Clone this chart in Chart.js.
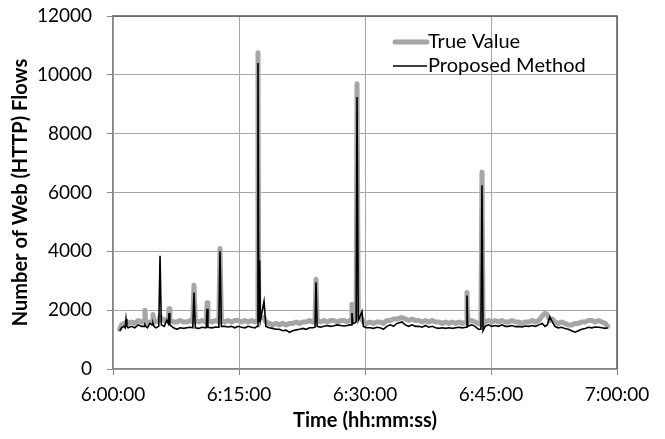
<!DOCTYPE html>
<html>
<head>
<meta charset="utf-8">
<script src="https://cdn.jsdelivr.net/npm/chart.js@4.4.1/dist/chart.umd.min.js"></script>
<style>
  html, body { margin: 0; padding: 0; background: #fff; }
  #wrap { width: 665px; height: 439px; }
</style>
</head>
<body>
<div id="wrap"><canvas id="flows"></canvas></div>
<script>
// minutes after 6:00:00
const minutes = [
  0.8, 1.0, 1.3, 1.45, 1.55, 1.65, 1.8, 2.2, 2.6, 3.0, 3.4, 3.7, 3.8, 3.9, 4.1, 4.4,
  4.65, 4.76, 4.87, 5.1, 5.45, 5.6, 5.75, 6.1, 6.4, 6.57, 6.67, 6.77, 7.2, 7.6, 8.0, 8.4,
  8.8, 9.2, 9.5, 9.64, 9.8, 10.2, 10.6, 11.0, 11.1, 11.2, 11.3, 11.8, 12.2, 12.6, 12.74, 12.9,
  13.3, 13.7, 14.1, 14.5, 14.9, 15.3, 15.7, 16.1, 16.5, 16.9, 17.15, 17.26, 17.36, 17.45, 17.55, 17.98,
  18.2, 18.6, 19.0, 19.4, 19.8, 20.2, 20.6, 21.0, 21.4, 21.8, 22.2, 22.6, 23.0, 23.4, 23.8, 24.05,
  24.17, 24.3, 24.7, 25.1, 25.5, 25.9, 26.3, 26.7, 27.1, 27.5, 27.9, 28.2, 28.35, 28.45, 28.55, 28.7,
  28.95, 29.05, 29.2, 29.64, 29.8, 30.2, 30.6, 31.0, 31.4, 31.8, 32.2, 32.6, 33.0, 33.4, 33.8, 34.4,
  34.8, 35.2, 35.6, 36.0, 36.4, 36.8, 37.2, 37.6, 38.0, 38.4, 38.8, 39.2, 39.6, 40.0, 40.4, 40.8,
  41.2, 41.6, 42.0, 42.05, 42.14, 42.23, 42.7, 43.1, 43.5, 43.8, 43.93, 44.05, 44.3, 44.7, 45.1, 45.5,
  45.9, 46.3, 46.7, 47.1, 47.5, 47.9, 48.3, 48.7, 49.1, 49.5, 49.9, 50.3, 50.7, 51.1, 51.43, 51.7,
  52.0, 52.3, 52.6, 53.0, 53.4, 53.8, 54.2, 54.6, 55.0, 55.4, 55.8, 56.2, 56.6, 57.0, 57.4, 57.8,
  58.2, 58.6, 58.9
];
const trueValue = [
  1350, 1500, 1550, 1550, 1600, 1550, 1550, 1600, 1550, 1650, 1600, 1600, 2000, 1600, 1550, 1600,
  1600, 1850, 1600, 1600, 1650, 1800, 1700, 1650, 1700, 1650, 2050, 1650, 1600, 1600, 1650, 1600,
  1600, 1650, 1600, 2850, 1650, 1600, 1650, 1600, 1600, 2250, 1650, 1600, 1650, 1600, 4100, 1650,
  1600, 1650, 1600, 1650, 1650, 1600, 1650, 1600, 1650, 1600, 1650, 10750, 1800, 1800, 1750, 1750,
  1600, 1550, 1500, 1550, 1500, 1550, 1500, 1550, 1550, 1600, 1550, 1600, 1600, 1650, 1600, 1600,
  3050, 1650, 1600, 1650, 1600, 1650, 1650, 1600, 1650, 1650, 1600, 1650, 1650, 2200, 1700, 1700,
  1750, 9700, 1750, 1700, 1600, 1550, 1600, 1550, 1600, 1600, 1550, 1650, 1650, 1700, 1700, 1750,
  1700, 1650, 1700, 1650, 1650, 1600, 1650, 1600, 1650, 1600, 1600, 1550, 1600, 1550, 1600, 1550,
  1600, 1550, 1600, 1600, 2600, 1600, 1650, 1600, 1550, 1500, 6700, 1500, 1600, 1650, 1600, 1650,
  1600, 1650, 1600, 1600, 1650, 1600, 1600, 1550, 1600, 1600, 1650, 1600, 1650, 1800, 1900, 1850,
  1650, 1700, 1600, 1550, 1600, 1550, 1500, 1500, 1550, 1550, 1600, 1600, 1650, 1650, 1600, 1650,
  1600, 1550, 1450
];
const proposed = [
  1300, 1400, 1450, 1400, 1700, 1450, 1400, 1450, 1400, 1500, 1450, 1450, 1500, 1450, 1400, 1550,
  1500, 1550, 1450, 1400, 1450, 3850, 1500, 1450, 1650, 1550, 1900, 1500, 1400, 1350, 1400, 1380,
  1400, 1420, 1400, 2600, 1400, 1380, 1420, 1400, 1400, 2050, 1420, 1400, 1430, 1420, 4000, 1450,
  1450, 1430, 1450, 1400, 1450, 1420, 1400, 1450, 1420, 1400, 1450, 10400, 1600, 3700, 1650, 2300,
  1450, 1400, 1380, 1350, 1350, 1300, 1320, 1250, 1300, 1330, 1350, 1380, 1350, 1400, 1400, 1420,
  2950, 1450, 1420, 1450, 1480, 1450, 1470, 1500, 1480, 1460, 1480, 1500, 1500, 1900, 1550, 1550,
  1600, 9250, 1650, 1950, 1450, 1400, 1400, 1380, 1420, 1400, 1350, 1450, 1500, 1450, 1550, 1600,
  1500, 1450, 1500, 1450, 1450, 1420, 1480, 1420, 1450, 1400, 1380, 1400, 1380, 1400, 1380, 1400,
  1420, 1400, 1420, 1420, 2500, 1450, 1500, 1450, 1350, 1350, 6250, 1300, 1450, 1500, 1450, 1480,
  1450, 1500, 1450, 1450, 1480, 1440, 1450, 1430, 1460, 1450, 1480, 1450, 1500, 1550, 1450, 1500,
  1770, 1600, 1450, 1400, 1420, 1380, 1350, 1300, 1250, 1300, 1350, 1380, 1420, 1400, 1430, 1420,
  1400, 1380, 1400
];
const xTicks = [0, 15, 30, 45, 60];
const xTickLabels = ['6:00:00', '6:15:00', '6:30:00', '6:45:00', '7:00:00'];

const FONT = 'Lato, "Open Sans", sans-serif';

function toPoints(ys) {
  return minutes.map((m, i) => ({ x: m, y: ys[i] }));
}

// keep the plot box where it is in the reference, no extra room for edge labels
function noEdgePadding(scale) {
  scale.paddingTop = 0;
  scale.paddingBottom = 0;
  scale.paddingLeft = 0;
  scale.paddingRight = 0;
}

// legend drawn inside the plot area, plus the dark top/right frame
const plotExtras = {
  id: 'plotExtras',
  afterDraw(chart) {
    const ctx = chart.ctx;
    const a = chart.chartArea;
    ctx.save();
    ctx.strokeStyle = '#595959';
    ctx.lineWidth = 1.5;
    ctx.beginPath();
    ctx.moveTo(a.left, a.top);
    ctx.lineTo(a.right, a.top);
    ctx.lineTo(a.right, a.bottom);
    ctx.stroke();

    const lx = a.left + 280;
    let ly = a.top + 26;
    ctx.font = '20px ' + FONT;
    ctx.textBaseline = 'middle';
    ctx.fillStyle = '#000';
    chart.data.datasets.forEach(ds => {
      ctx.strokeStyle = ds.borderColor;
      ctx.lineWidth = ds.borderWidth;
      ctx.lineCap = ds.borderWidth > 2 ? 'round' : 'butt';
      ctx.beginPath();
      ctx.moveTo(lx + (ds.borderWidth > 2 ? 2 : 0), ly);
      ctx.lineTo(lx + 34, ly);
      ctx.stroke();
      ctx.fillText(ds.label, lx + 35, ly);
      ly += 24;
    });
    ctx.restore();
  }
};

new Chart(document.getElementById('flows'), {
  type: 'line',
  data: {
    datasets: [
      {
        label: 'True Value',
        data: toPoints(trueValue),
        borderColor: '#a6a6a6',
        borderWidth: 5,
        borderJoinStyle: 'round',
        borderCapStyle: 'round',
        pointRadius: 0,
        tension: 0,
        order: 1
      },
      {
        label: 'Proposed Method',
        data: toPoints(proposed),
        borderColor: '#000000',
        borderWidth: 1.6,
        pointRadius: 0,
        tension: 0,
        order: 0
      }
    ]
  },
  options: {
    responsive: true,
    maintainAspectRatio: false,
    animation: false,
    layout: { padding: { top: 16, right: 48, bottom: 0, left: 0 } },
    plugins: {
      legend: { display: false },
      tooltip: { enabled: false }
    },
    scales: {
      x: {
        type: 'linear',
        min: 0,
        max: 60,
        afterBuildTicks: scale => { scale.ticks = xTicks.map(v => ({ value: v })); },
        afterFit: scale => { scale.height = 70; noEdgePadding(scale); },
        ticks: {
          color: '#000',
          font: { family: FONT, size: 19 },
          maxRotation: 0,
          padding: 8,
          callback: (v) => xTickLabels[xTicks.indexOf(v)]
        },
        grid: { color: '#a6a6a6', tickColor: '#868686', tickLength: 6 },
        border: { color: '#868686', width: 1.5 },
        title: {
          display: true,
          text: 'Time (hh:mm:ss)',
          color: '#000',
          font: { family: FONT, size: 20, weight: 'bold' },
          padding: { top: 0, bottom: 6 }
        }
      },
      y: {
        min: 0,
        max: 12000,
        afterFit: scale => { scale.width = 113; noEdgePadding(scale); },
        ticks: {
          stepSize: 2000,
          color: '#000',
          font: { family: FONT, size: 19 },
          padding: 15,
          callback: (v) => String(v)
        },
        grid: { color: '#a6a6a6', tickColor: '#868686', tickLength: 6 },
        border: { color: '#868686', width: 1.5 },
        title: {
          display: true,
          text: 'Number of Web (HTTP) Flows',
          color: '#000',
          font: { family: FONT, size: 20, weight: 'bold' },
          padding: { top: 9, bottom: 0 }
        }
      }
    }
  },
  plugins: [plotExtras]
});
</script>
</body>
</html>
